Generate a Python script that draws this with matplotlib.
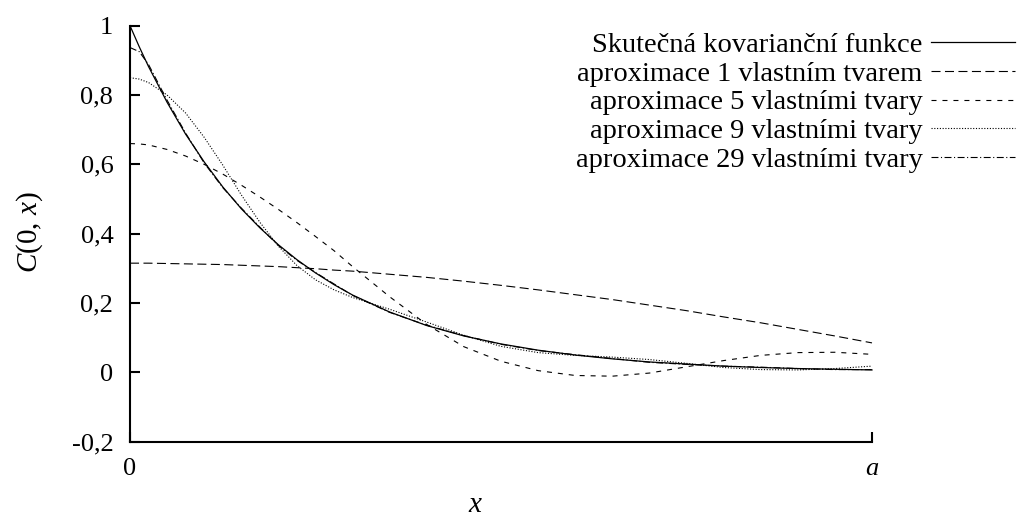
import matplotlib
matplotlib.use('Agg')
import matplotlib.pyplot as plt

plt.rcParams['font.family'] = ['Liberation Serif', 'DejaVu Serif']
plt.rcParams['mathtext.fontset'] = 'custom'
plt.rcParams['mathtext.rm'] = 'Liberation Serif'
plt.rcParams['mathtext.it'] = 'Liberation Serif:italic'
plt.rcParams['lines.scale_dashes'] = False

# positions along the beam, as a fraction of a
x_frac = [0, 0.0125, 0.025, 0.05, 0.075, 0.1, 0.125, 0.15, 0.175, 0.2,
          0.225, 0.25, 0.275, 0.3, 0.35, 0.4, 0.45, 0.5, 0.55, 0.6,
          0.65, 0.7, 0.75, 0.8, 0.85, 0.9, 0.95, 1.0]

c_true = [1.000, 0.939, 0.882, 0.779, 0.687, 0.607, 0.535, 0.472, 0.417, 0.368,
          0.325, 0.287, 0.253, 0.223, 0.174, 0.135, 0.105, 0.082, 0.064, 0.050,
          0.039, 0.030, 0.024, 0.018, 0.014, 0.011, 0.009, 0.007]
c_1 = [0.315, 0.315, 0.315, 0.314, 0.313, 0.312, 0.311, 0.309, 0.307, 0.305,
       0.302, 0.299, 0.295, 0.292, 0.283, 0.274, 0.263, 0.251, 0.238, 0.224,
       0.210, 0.194, 0.178, 0.160, 0.143, 0.124, 0.105, 0.085]
c_5 = [0.660, 0.659, 0.656, 0.643, 0.624, 0.600, 0.572, 0.540, 0.506, 0.470,
       0.432, 0.392, 0.351, 0.305, 0.218, 0.138, 0.074, 0.032, 0.005, -0.009,
       -0.011, -0.002, 0.016, 0.034, 0.049, 0.057, 0.058, 0.052]
c_9 = [0.850, 0.846, 0.836, 0.800, 0.748, 0.678, 0.598, 0.512, 0.433, 0.364,
       0.308, 0.267, 0.238, 0.216, 0.182, 0.145, 0.107, 0.075, 0.057, 0.049,
       0.044, 0.037, 0.026, 0.014, 0.008, 0.007, 0.011, 0.018]
c_29 = [0.937, 0.925, 0.888, 0.785, 0.690, 0.604, 0.533, 0.474, 0.419, 0.366,
        0.323, 0.288, 0.255, 0.222, 0.173, 0.136, 0.106, 0.081, 0.063, 0.051,
        0.040, 0.029, 0.023, 0.018, 0.015, 0.011, 0.008, 0.008]

labels = ['Skutečná kovarianční funkce',
          'aproximace 1 vlastním tvarem',
          'aproximace 5 vlastními tvary',
          'aproximace 9 vlastními tvary',
          'aproximace 29 vlastními tvary']

y_ticks = [-0.2, 0, 0.2, 0.4, 0.6, 0.8, 1]
y_ticklabels = ['-0,2', '0', '0,2', '0,4', '0,6', '0,8', '1']
x_ticks = [0, 1]
x_ticklabels = ['0', '$a$']

fig = plt.figure(figsize=(10.19, 5.18), dpi=100)
ax = fig.add_axes([130 / 1019, 76.3 / 518, 742 / 1019, 416 / 518])

styles = [
    dict(linestyle='-', linewidth=0.9),
    dict(dashes=(6.5, 3.2), linewidth=0.8),
    dict(dashes=(3.6, 4.3), linewidth=0.8),
    dict(dashes=(0.8, 1.2), linewidth=0.8),
    dict(dashes=(5.0, 1.8, 0.8, 1.8), linewidth=0.8),
]
for ys, lab, st in zip([c_true, c_1, c_5, c_9, c_29], labels, styles):
    ax.plot(x_frac, ys, color='black', label=lab, clip_on=False, **st)

ax.set_xlim(0, 1)
ax.set_ylim(-0.2, 1)
ax.set_yticks(y_ticks)
ax.set_yticklabels(y_ticklabels)
ax.set_xticks(x_ticks)
ax.set_xticklabels(x_ticklabels)
ax.tick_params(direction='in', length=7, width=1.5, labelsize=19, pad=12)

for side in ['top', 'right']:
    ax.spines[side].set_visible(False)
for side in ['left', 'bottom']:
    ax.spines[side].set_linewidth(1.5)

ax.set_xlabel('$x$', fontsize=21)
ax.xaxis.set_label_coords(0.466, -0.122)
ax.set_ylabel('$C(0,\\,x)$', fontsize=21)
ax.yaxis.set_label_coords(-0.115, 0.504)

ax.legend(loc='upper right', bbox_to_anchor=(1015 / 1019, 1 - 32 / 518),
          bbox_transform=fig.transFigure, frameon=False, markerfirst=False,
          fontsize=20.5, handlelength=2.95, handletextpad=0.3,
          labelspacing=0.1, borderpad=0, borderaxespad=0)

fig.savefig('out.png', dpi=100)
